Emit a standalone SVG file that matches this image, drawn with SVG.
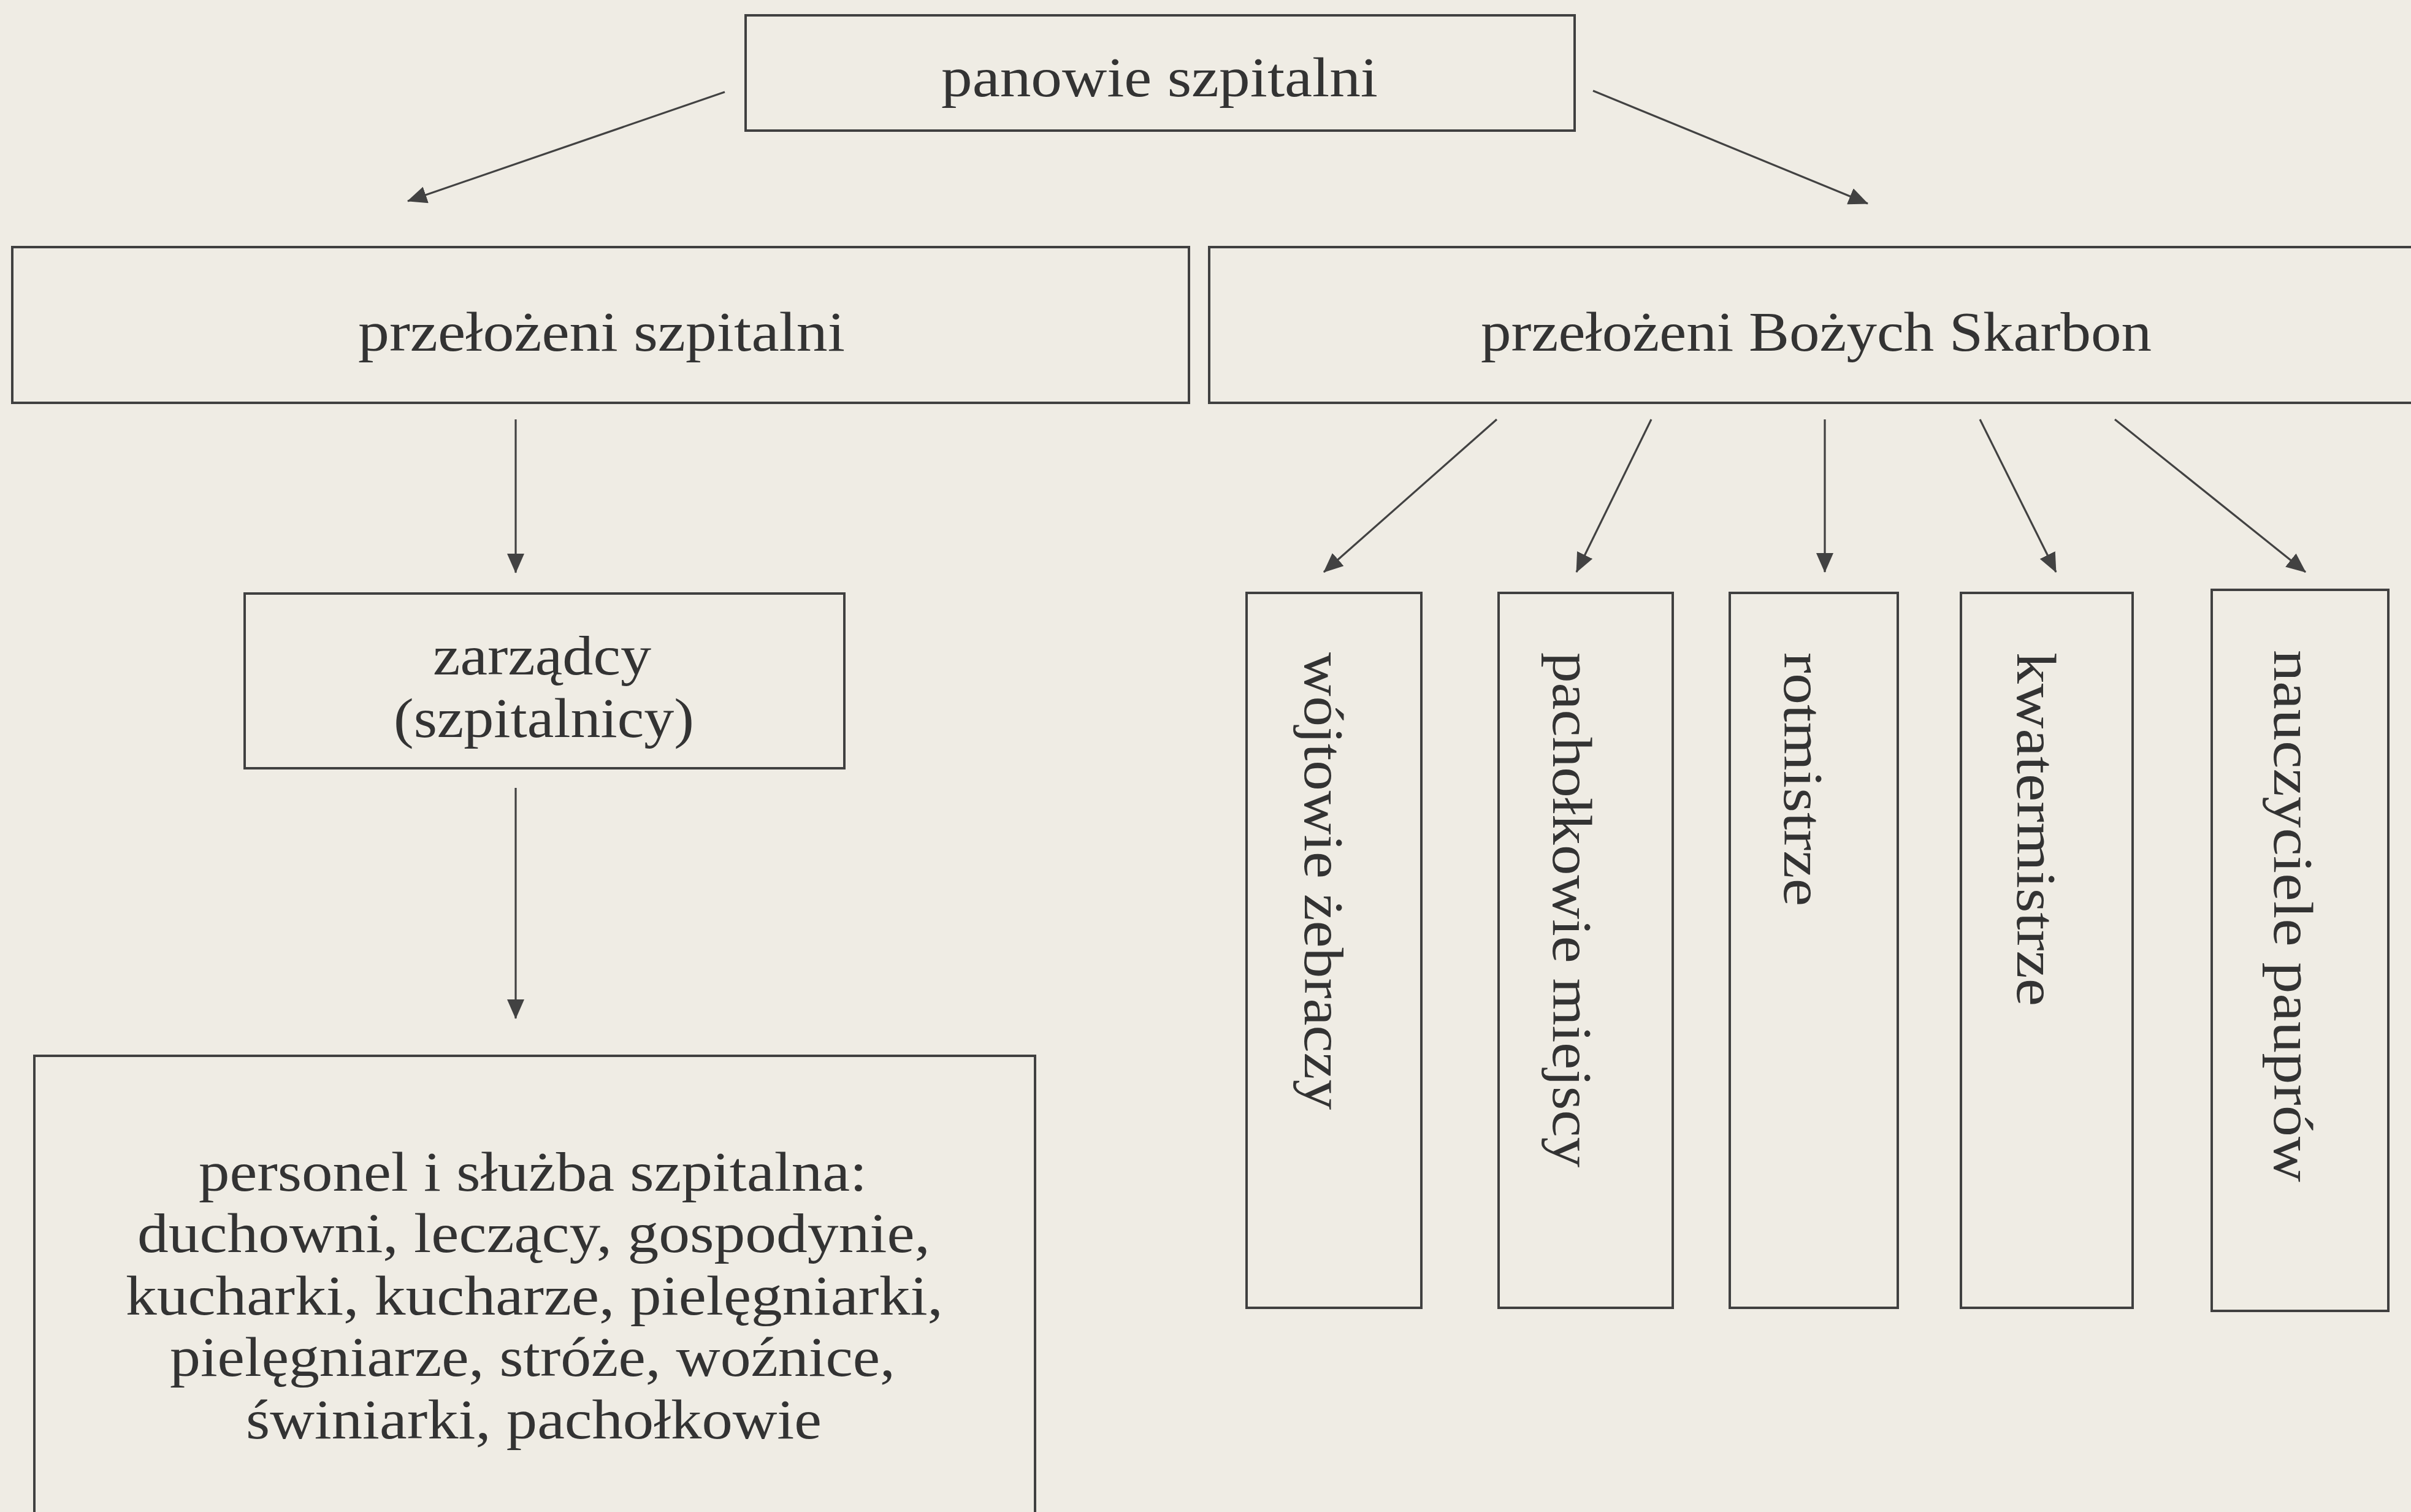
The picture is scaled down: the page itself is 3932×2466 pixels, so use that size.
<svg xmlns="http://www.w3.org/2000/svg" width="3932" height="2466" viewBox="0 0 3932 2466">
<defs>
<style>
.box{fill:none;stroke:#404040;stroke-width:4}
.t{font-family:"Liberation Serif","Times New Roman",serif;font-size:92px;fill:#333333}
.c{stroke:#424242;stroke-width:3.2;fill:none;marker-end:url(#ah)}
</style>
<marker id="ah" markerUnits="userSpaceOnUse" viewBox="0 0 32 28" markerWidth="32" markerHeight="28" refX="31" refY="14" orient="auto">
<path d="M0,0 L32,14 L0,28 Z" fill="#424242"/>
</marker>
</defs>
<rect width="3932" height="2466" fill="#efece4"/>

<g id="connectors">
<line class="c" x1="1182" y1="150" x2="665" y2="328"/>
<line class="c" x1="2598" y1="148" x2="3046" y2="332"/>
<line class="c" x1="841" y1="684" x2="841" y2="934"/>
<line class="c" x1="841" y1="1285" x2="841" y2="1661"/>
<line class="c" x1="2441" y1="684" x2="2159" y2="933"/>
<line class="c" x1="2693" y1="684" x2="2571" y2="933"/>
<line class="c" x1="2976" y1="684" x2="2976" y2="933"/>
<line class="c" x1="3229" y1="684" x2="3353" y2="933"/>
<line class="c" x1="3449" y1="684" x2="3760" y2="933"/>
</g>

<g id="panowie">
<rect class="box" x="1216" y="25" width="1352" height="188"/>
<text class="t" x="1535" y="157" textLength="712" lengthAdjust="spacingAndGlyphs">panowie szpitalni</text>
</g>

<g id="przelozeni-szpitalni">
<rect class="box" x="20" y="403" width="1919" height="254"/>
<text class="t" x="584" y="572" textLength="794" lengthAdjust="spacingAndGlyphs">przełożeni szpitalni</text>
</g>

<g id="przelozeni-skarbon">
<rect class="box" x="1972" y="403" width="2040" height="254"/>
<text class="t" x="2415" y="572" textLength="1094" lengthAdjust="spacingAndGlyphs">przełożeni Bożych Skarbon</text>
</g>

<g id="zarzadcy">
<rect class="box" x="399" y="968" width="978" height="285"/>
<text class="t" x="706" y="1100" textLength="356" lengthAdjust="spacingAndGlyphs">zarządcy</text>
<text class="t" x="642" y="1202" textLength="490" lengthAdjust="spacingAndGlyphs">(szpitalnicy)</text>
</g>

<g id="personel">
<rect class="box" x="56" y="1722" width="1632" height="820"/>
<text class="t" x="324" y="1942" textLength="1090" lengthAdjust="spacingAndGlyphs">personel i służba szpitalna:</text>
<text class="t" x="224" y="2042" textLength="1293" lengthAdjust="spacingAndGlyphs">duchowni, leczący, gospodynie,</text>
<text class="t" x="205" y="2144" textLength="1333" lengthAdjust="spacingAndGlyphs">kucharki, kucharze, pielęgniarki,</text>
<text class="t" x="277" y="2244" textLength="1183" lengthAdjust="spacingAndGlyphs">pielęgniarze, stróże, woźnice,</text>
<text class="t" x="401" y="2346" textLength="939" lengthAdjust="spacingAndGlyphs">świniarki, pachołkowie</text>
</g>

<g id="wojtowie">
<rect class="box" x="2033" y="967" width="285" height="1166"/>
<text class="t" transform="translate(2128,1064) rotate(90)" textLength="746" lengthAdjust="spacingAndGlyphs">wójtowie żebraczy</text>
</g>

<g id="pacholkowie">
<rect class="box" x="2444" y="967" width="284" height="1166"/>
<text class="t" transform="translate(2533,1064) rotate(90)" textLength="840" lengthAdjust="spacingAndGlyphs">pachołkowie miejscy</text>
</g>

<g id="rotmistrze">
<rect class="box" x="2821" y="967" width="274" height="1166"/>
<text class="t" transform="translate(2910,1064) rotate(90)" textLength="414" lengthAdjust="spacingAndGlyphs">rotmistrze</text>
</g>

<g id="kwatermistrze">
<rect class="box" x="3198" y="967" width="280" height="1166"/>
<text class="t" transform="translate(3290,1064) rotate(90)" textLength="577" lengthAdjust="spacingAndGlyphs">kwatermistrze</text>
</g>

<g id="nauczyciele">
<rect class="box" x="3607" y="962" width="288" height="1176"/>
<text class="t" transform="translate(3709,1060) rotate(90)" textLength="868" lengthAdjust="spacingAndGlyphs">nauczyciele pauprów</text>
</g>
</svg>
